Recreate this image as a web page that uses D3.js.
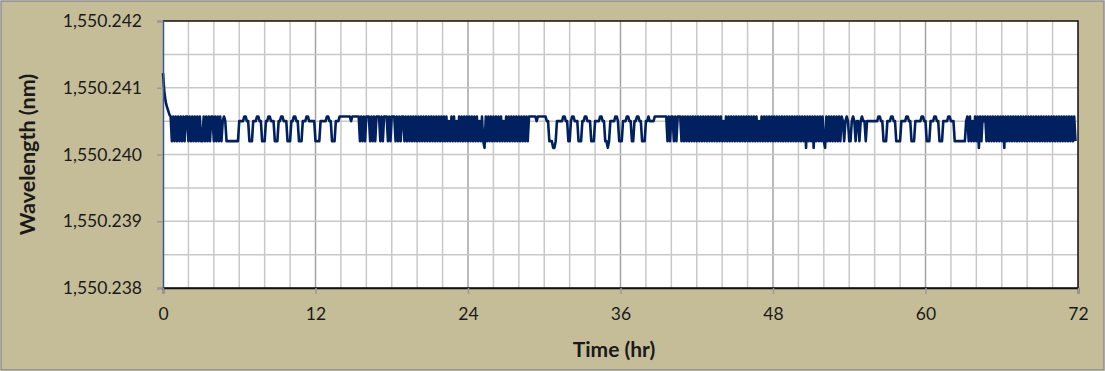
<!DOCTYPE html>
<html>
<head>
<meta charset="utf-8">
<script src="https://cdn.jsdelivr.net/npm/d3@7"></script>
<style>
  body { margin: 0; background: #fff; }
  text { font-family: Lato, "Open Sans", sans-serif; fill: #1a1a1a; }
</style>
</head>
<body>
<div id="chart"></div>
<script>
// axis ticks
const xTicks = [0, 12, 24, 36, 48, 60, 72];
const xGridStep = 2;
const yTicks = [1550.238, 1550.239, 1550.240, 1550.241, 1550.242];
const yGridStep = 0.0005;

// start-up transient (hr, nm)
const spikeTime = [0, 0.1, 0.2, 0.3, 0.4, 0.5];
const spikeValue = [1550.24122, 1550.24095, 1550.2408, 1550.24072, 1550.24066, 1550.2406];

// quantised readout levels used in the trace strings
const levelCodes = ["H", "M", "L", "D"];
const levelValues = [1550.24057, 1550.2405, 1550.2402, 1550.2401];

// trace, one code every 0.1 hr from 0.6 hr
const traceStart = 0.6;
const traceStep = 0.1;
const traceSegments = [
  // dense 0.6 - 4.7
  "HLHLHLHLHL HLHHLHLHLH LHLHLLHLHL HLHHLHLHLH LM",
  // sparse 4.7 - 14.0
  "HMLLLLLLLL LLMMMMHHMM LLLMMMHHMM LLLMMHHMMM LLLMMHHMMM LLLMMHHMML LLMMMHHMMM MMLLLLMMMM MHHMMLLLMM MHHH",
  // flat
  "HHHHHHMHHHHH",
  // dense 15.3 - 28.8
  "HLHLHLHHHL HLHLHHHLHL HHHLHLHHHL HLHLHHLHLH LHLHLHLHLH LHLHLHLHLH LHLHLHLHLH LMLHLHLMLH LHLHLHLHLH LHLHLMLHLD HLHLHLHLHL HLHLMLHLHL HLHLHLHLHL HLHLH",
  // flat
  "HHHHHMHHHHHHHM",
  // sparse 30.2 - 38.7
  "MLLLDDLMMM MMHHMMLLMH HMMMLLLMMH HMMMLLLMMM MHHMMLLDLM MMMHHMLLLM MMHHMMLLMM HHMMLLLMMH MMMMH",
  // flat
  "HHHHHHHH",
  // dense 39.5 - 53.4
  "HLHLHHLHLH HHLHLHLHLH LHLHLHLHLH LHLHLHLHLH LHLHLMLHLH LHLHLHLHLH LHLHLHLHLH LHLMLHLHLH LHLHLHLHLH LHLHLHLHLH LHLHLHLHLH DHLHLHDHLH LHLHLDHLHL HLHLHLHLH",
  // sparse 53.4 - 63.3
  "MLMHMLLMHM LMMLMHMMLM MMMMMMMMHH MMLLLMMMHH MMLLLLMMMM HHMMLLLMMM MMHHMMLLLM MMHHMMLLLM MMMHHMMMLL LLLLLLLMH",
  // dense 63.3 - 71.8
  "LHLMLHLHDH LHMHLHLHLH LHLHLHLHDH LHLHLHLHLH LHLHLHLHLH LHLHLHLHLH LHLHLHLHLH LHLHLHLHLH LHLHL"
];

const W = 1105, H = 371;
const plot = { left: 163, right: 1078, top: 21, bottom: 288 };

const svg = d3.select("#chart").append("svg")
  .attr("width", W)
  .attr("height", H);

// chart background and outer border
svg.append("rect")
  .attr("x", 1).attr("y", 1)
  .attr("width", W - 2).attr("height", H - 2)
  .attr("fill", "#c4bd97")
  .attr("stroke", "#8e8e8e")
  .attr("stroke-width", 1.5);

const x = d3.scaleLinear().domain([0, 72]).range([plot.left, plot.right]);
const y = d3.scaleLinear().domain([1550.238, 1550.242]).range([plot.bottom, plot.top]);

svg.append("rect")
  .attr("x", plot.left).attr("y", plot.top)
  .attr("width", plot.right - plot.left)
  .attr("height", plot.bottom - plot.top)
  .attr("fill", "#fff");

// gridlines
const xGrid = d3.range(0, 72 + 0.001, xGridStep);
svg.append("g").selectAll("line")
  .data(xGrid.filter(d => d > 0 && d < 72))
  .join("line")
  .attr("x1", d => x(d)).attr("x2", d => x(d))
  .attr("y1", plot.top).attr("y2", plot.bottom)
  .attr("stroke", d => d % 12 === 0 ? "#a3a3a3" : "#c8c8c8")
  .attr("stroke-width", 1.5);

const yGrid = d3.range(0, 9).map(i => 1550.238 + i * yGridStep);
svg.append("g").selectAll("line")
  .data(yGrid.slice(1, -1))
  .join("line")
  .attr("x1", plot.left).attr("x2", plot.right)
  .attr("y1", d => y(d)).attr("y2", d => y(d))
  .attr("stroke", "#c8c8c8")
  .attr("stroke-width", 1.5);

// build the series
const data = spikeTime.map((t, i) => ({ t: t, v: spikeValue[i] }));
traceSegments.join("").replace(/\s/g, "").split("").forEach((c, i) => {
  data.push({ t: traceStart + i * traceStep, v: levelValues[levelCodes.indexOf(c)] });
});

svg.append("path")
  .datum(data)
  .attr("fill", "none")
  .attr("stroke", "#002060")
  .attr("stroke-width", 2.6)
  .attr("stroke-linejoin", "round")
  .attr("d", d3.line().x(d => x(d.t)).y(d => y(d.v)));

// plot frame (top, right, bottom)
svg.append("path")
  .attr("d", `M${plot.left},${plot.top}H${plot.right}V${plot.bottom}H${plot.left}`)
  .attr("fill", "none")
  .attr("stroke", "#111")
  .attr("stroke-width", 1.5);

// axes
const yAxis = svg.append("g")
  .attr("transform", `translate(${plot.left},0)`)
  .call(d3.axisLeft(y).tickValues(yTicks).tickFormat(d3.format(",.3f"))
    .tickSize(6).tickPadding(15));
yAxis.select(".domain").attr("stroke", "#3b5998").attr("stroke-width", 1.5);

const xAxis = svg.append("g")
  .attr("transform", `translate(0,${plot.bottom})`)
  .call(d3.axisBottom(x).tickValues(xTicks).tickSize(6).tickPadding(14));
xAxis.select(".domain").attr("stroke", "#111").attr("stroke-width", 1.5);

svg.selectAll(".tick line").attr("stroke", "#9a9a9a").attr("stroke-width", 1.5);
svg.selectAll(".tick text")
  .attr("fill", "#141414")
  .style("font-family", "Lato, 'Open Sans', sans-serif")
  .style("font-size", "17.5px");

// axis titles
svg.append("text")
  .attr("x", 614).attr("y", 357)
  .attr("text-anchor", "middle")
  .style("font-size", "21px")
  .style("font-weight", "bold")
  .text("Time (hr)");

svg.append("text")
  .attr("transform", `translate(35,${(plot.top + plot.bottom) / 2}) rotate(-90)`)
  .attr("text-anchor", "middle")
  .style("font-size", "21.5px")
  .style("font-weight", "bold")
  .text("Wavelength (nm)");
</script>
</body>
</html>
